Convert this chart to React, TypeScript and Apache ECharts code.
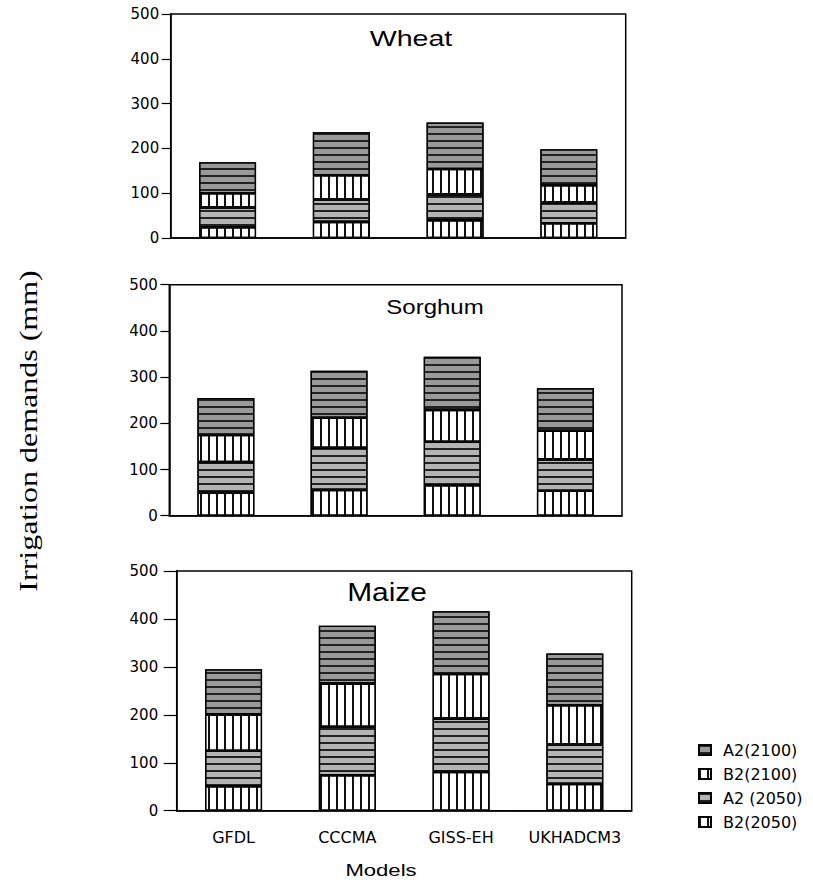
import { useEffect, useRef } from "react";
import * as echarts from "echarts";

const models = ["GFDL", "CCCMA", "GISS-EH", "UKHADCM3"];
const cropNames = ["Wheat", "Sorghum", "Maize"];
const seriesNames = ["B2(2050)", "A2 (2050)", "B2(2100)", "A2(2100)"];
const legendOrder = ["A2(2100)", "B2(2100)", "A2 (2050)", "B2(2050)"];

// segment heights (mm), stacked bottom to top
const wheatB2_2050 = [24, 36, 40, 33];
const wheatA2_2050 = [44, 50, 57, 46];
const wheatB2_2100 = [32, 54, 57, 39];
const wheatA2_2100 = [69, 96, 104, 80];

const sorghumB2_2050 = [50, 56, 66, 54];
const sorghumA2_2050 = [66, 91, 94, 68];
const sorghumB2_2100 = [59, 65, 69, 62];
const sorghumA2_2100 = [80, 102, 115, 92];

const maizeB2_2050 = [51, 74, 81, 56];
const maizeA2_2050 = [74, 101, 111, 82];
const maizeB2_2100 = [76, 90, 93, 82];
const maizeA2_2100 = [94, 121, 131, 108];

const cropData = [
  [wheatB2_2050, wheatA2_2050, wheatB2_2100, wheatA2_2100],
  [sorghumB2_2050, sorghumA2_2050, sorghumB2_2100, sorghumA2_2100],
  [maizeB2_2050, maizeA2_2050, maizeB2_2100, maizeA2_2100],
];

const grids = [
  { left: 170.7, top: 14, width: 455, height: 224 },
  { left: 169.3, top: 284.7, width: 452.7, height: 231 },
  { left: 176.7, top: 571, width: 455, height: 239.7 },
];

const vDecal = {
  symbol: "rect",
  symbolSize: 1,
  color: "#111",
  dashArrayX: [2, 6],
  dashArrayY: [1, 0],
  rotation: 0,
};
const hDecal = {
  symbol: "rect",
  symbolSize: 1,
  color: "#222",
  dashArrayX: [1, 0],
  dashArrayY: [2, 5],
  rotation: 0,
};

const segStyles = [
  { color: "#ffffff", decal: vDecal },
  { color: "#b4b4b4", decal: hDecal },
  { color: "#ffffff", decal: vDecal },
  { color: "#999999", decal: hDecal },
];

export default function App() {
  const ref = useRef<HTMLDivElement>(null);
  useEffect(() => {
    if (!ref.current) return;
    const chart = echarts.init(ref.current, null, { renderer: "svg" });
    const series: any[] = [];
    cropData.forEach((segs, gi) => {
      segs.forEach((vals, k) => {
        series.push({
          type: "bar",
          name: seriesNames[k],
          xAxisIndex: gi,
          yAxisIndex: gi,
          stack: "crop" + gi,
          barWidth: 57,
          data: vals,
          itemStyle: {
            color: segStyles[k].color,
            borderColor: "#000",
            borderWidth: 1.3,
            decal: segStyles[k].decal,
          },
          emphasis: { disabled: true },
        });
      });
    });
    const axisFont = "DejaVu Sans";
    chart.setOption({
      animation: false,
      aria: { enabled: false },
      grid: grids.map((g) => ({
        ...g,
        show: true,
        borderColor: "#000",
        borderWidth: 1.5,
        backgroundColor: "transparent",
      })),
      xAxis: grids.map((_, i) => ({
        gridIndex: i,
        type: "category",
        data: models,
        axisLine: { lineStyle: { color: "#000", width: 1.5 } },
        axisTick: { show: false },
        axisLabel: {
          show: i === 2,
          interval: 0,
          hideOverlap: false,
          fontFamily: axisFont,
          fontSize: 16,
          color: "#000",
          margin: 19,
        },
      })),
      yAxis: grids.map((_, i) => ({
        gridIndex: i,
        type: "value",
        min: 0,
        max: 500,
        interval: 100,
        axisLine: { show: true, lineStyle: { color: "#000", width: 1.5 } },
        axisTick: {
          show: true,
          length: i === 2 ? 13 : 9,
          lineStyle: { color: "#000", width: 1.2 },
        },
        splitLine: { show: false },
        axisLabel: {
          fontFamily: axisFont,
          fontSize: 15,
          color: "#000",
          margin: i === 2 ? 18.5 : 11.5,
        },
      })),
      legend: {
        data: legendOrder,
        orient: "vertical",
        left: 698,
        top: 742,
        padding: 0,
        icon: "rect",
        itemWidth: 12,
        itemHeight: 10,
        itemGap: 8,
        selectedMode: false,
        textStyle: {
          fontFamily: axisFont,
          fontSize: 16,
          color: "#000",
          padding: [0, 0, 0, 7],
        },
      },
      graphic: [
        {
          type: "text",
          x: 411,
          y: 38,
          scaleX: 1.3,
          style: {
            text: cropNames[0],
            font: "22px 'Liberation Sans'",
            fill: "#000",
            align: "center",
            verticalAlign: "middle",
          },
        },
        {
          type: "text",
          x: 435,
          y: 307,
          scaleX: 1.2,
          style: {
            text: cropNames[1],
            font: "20px 'Liberation Sans'",
            fill: "#000",
            align: "center",
            verticalAlign: "middle",
          },
        },
        {
          type: "text",
          x: 387,
          y: 592,
          scaleX: 1.15,
          style: {
            text: cropNames[2],
            font: "26px 'Liberation Sans'",
            fill: "#000",
            align: "center",
            verticalAlign: "middle",
          },
        },
        {
          type: "text",
          x: 381,
          y: 870,
          scaleX: 1.3,
          style: {
            text: "Models",
            font: "17px 'Liberation Sans'",
            fill: "#000",
            align: "center",
            verticalAlign: "middle",
          },
        },
        {
          type: "text",
          x: 28,
          y: 431,
          rotation: Math.PI / 2,
          scaleX: 1.23,
          style: {
            text: "Irrigation demands (mm)",
            font: "26px 'Liberation Serif'",
            fill: "#000",
            align: "center",
            verticalAlign: "middle",
          },
        },
      ],
      series,
    });
    return () => chart.dispose();
  }, []);
  return (
    <div
      ref={ref}
      style={{ position: "absolute", left: 0, top: 0, width: 813, height: 882, background: "#fff" }}
    />
  );
}
